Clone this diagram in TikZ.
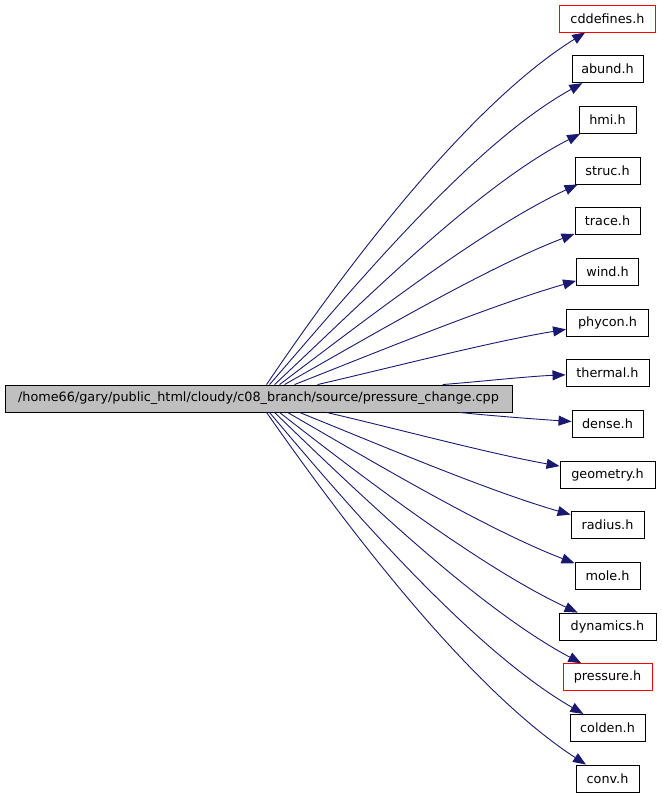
\documentclass[tikz,border=0pt]{standalone}
\usepackage{fontspec}
\setmainfont{DejaVu Sans}
\usetikzlibrary{arrows.meta, positioning}
\definecolor{dgEdge}{HTML}{191970}
\definecolor{dgRed}{HTML}{FF0000}
\definecolor{dgGrey}{HTML}{BFBFBF}
\tikzset{
  hfile/.style    = {draw=black, line width=0.9pt, minimum height=27pt,
                     inner xsep=4pt, inner ysep=0pt,
                     font=\fontsize{12.8}{15}\selectfont},
  redfile/.style  = {hfile, draw=dgRed},
  srcfile/.style  = {hfile, fill=dgGrey},
  incl/.style     = {dgEdge, line width=0.9pt, looseness=0.75,
                     -{Triangle[length=13pt, width=10pt]}},
}

\begin{document}
\begin{tikzpicture}[x=1pt, y=1pt, node distance=22.77pt]
\useasboundingbox (0,0) rectangle (661,-797);

% ---- the source file ------------------------------------------------------
\node[srcfile, minimum width=507pt] (src) at (258.5,-398.5)
  {/home66/gary/public\_html/cloudy/c08\_branch/source/pressure\_change.cpp};

% ---- included headers, one column -----------------------------------------
\node[redfile, minimum width=96pt] (cddefines) at (607.5,-18.5) {cddefines.h};
\node[hfile, minimum width=71pt, below=of cddefines] (abund)   {abund.h};
\node[hfile, minimum width=57pt, below=of abund]     (hmi)     {hmi.h};
\node[hfile, minimum width=65pt, below=of hmi]       (struc)   {struc.h};
\node[hfile, minimum width=65pt, below=of struc]     (trace)   {trace.h};
\node[hfile, minimum width=62pt, below=of trace]     (wind)    {wind.h};
\node[hfile, minimum width=82pt, below=of wind]      (phycon)  {phycon.h};
\node[hfile, minimum width=83pt, below=of phycon]    (thermal) {thermal.h};
\node[hfile, minimum width=71pt, below=of thermal]   (dense)   {dense.h};
\node[hfile, minimum width=95pt, below=of dense]     (geometry){geometry.h};
\node[hfile, minimum width=73pt, below=of geometry]  (radius)  {radius.h};
\node[hfile, minimum width=65pt, below=of radius]    (mole)    {mole.h};
\node[hfile, minimum width=97pt, below=of mole]      (dynamics){dynamics.h};
\node[redfile, minimum width=89pt, below=of dynamics](pressure){pressure.h};
\node[hfile, minimum width=75pt, below=of pressure]  (colden)  {colden.h};
\node[hfile, minimum width=63pt, below=of colden]    (conv)    {conv.h};

% ---- include edges: leave the top of src for the upper half ---------------
\draw[incl] ([xshift=262pt]src.north west) to[out=56,  in=212] (cddefines);
\draw[incl] ([xshift=265pt]src.north west) to[out=49,  in=209] (abund);
\draw[incl] ([xshift=270pt]src.north west) to[out=43,  in=207] (hmi);
\draw[incl] ([xshift=275pt]src.north west) to[out=37,  in=205] (struc);
\draw[incl] ([xshift=280pt]src.north west) to[out=29.5,in=201] (trace);
\draw[incl] ([xshift=290pt]src.north west) to[out=21.5,in=196] (wind);
\draw[incl] ([xshift=313pt]src.north west) to[out=13,  in=189.5] (phycon);
\draw[incl] ([xshift=438pt]src.north west) to[out=4.5, in=182.5] (thermal);

% ... and the bottom of src for the lower half
\draw[incl] ([xshift=455pt]src.south west) to[out=-6,  in=176.5] (dense);
\draw[incl] ([xshift=322pt]src.south west) to[out=-13, in=170] (geometry);
\draw[incl] ([xshift=295pt]src.south west) to[out=-22, in=164] (radius);
\draw[incl] ([xshift=283pt]src.south west) to[out=-30, in=159] (mole);
\draw[incl] ([xshift=275pt]src.south west) to[out=-38, in=155] (dynamics);
\draw[incl] ([xshift=270pt]src.south west) to[out=-44, in=152] (pressure);
\draw[incl] ([xshift=265pt]src.south west) to[out=-50, in=150] (colden);
\draw[incl] ([xshift=262pt]src.south west) to[out=-55, in=147] (conv);

\end{tikzpicture}
\end{document}
